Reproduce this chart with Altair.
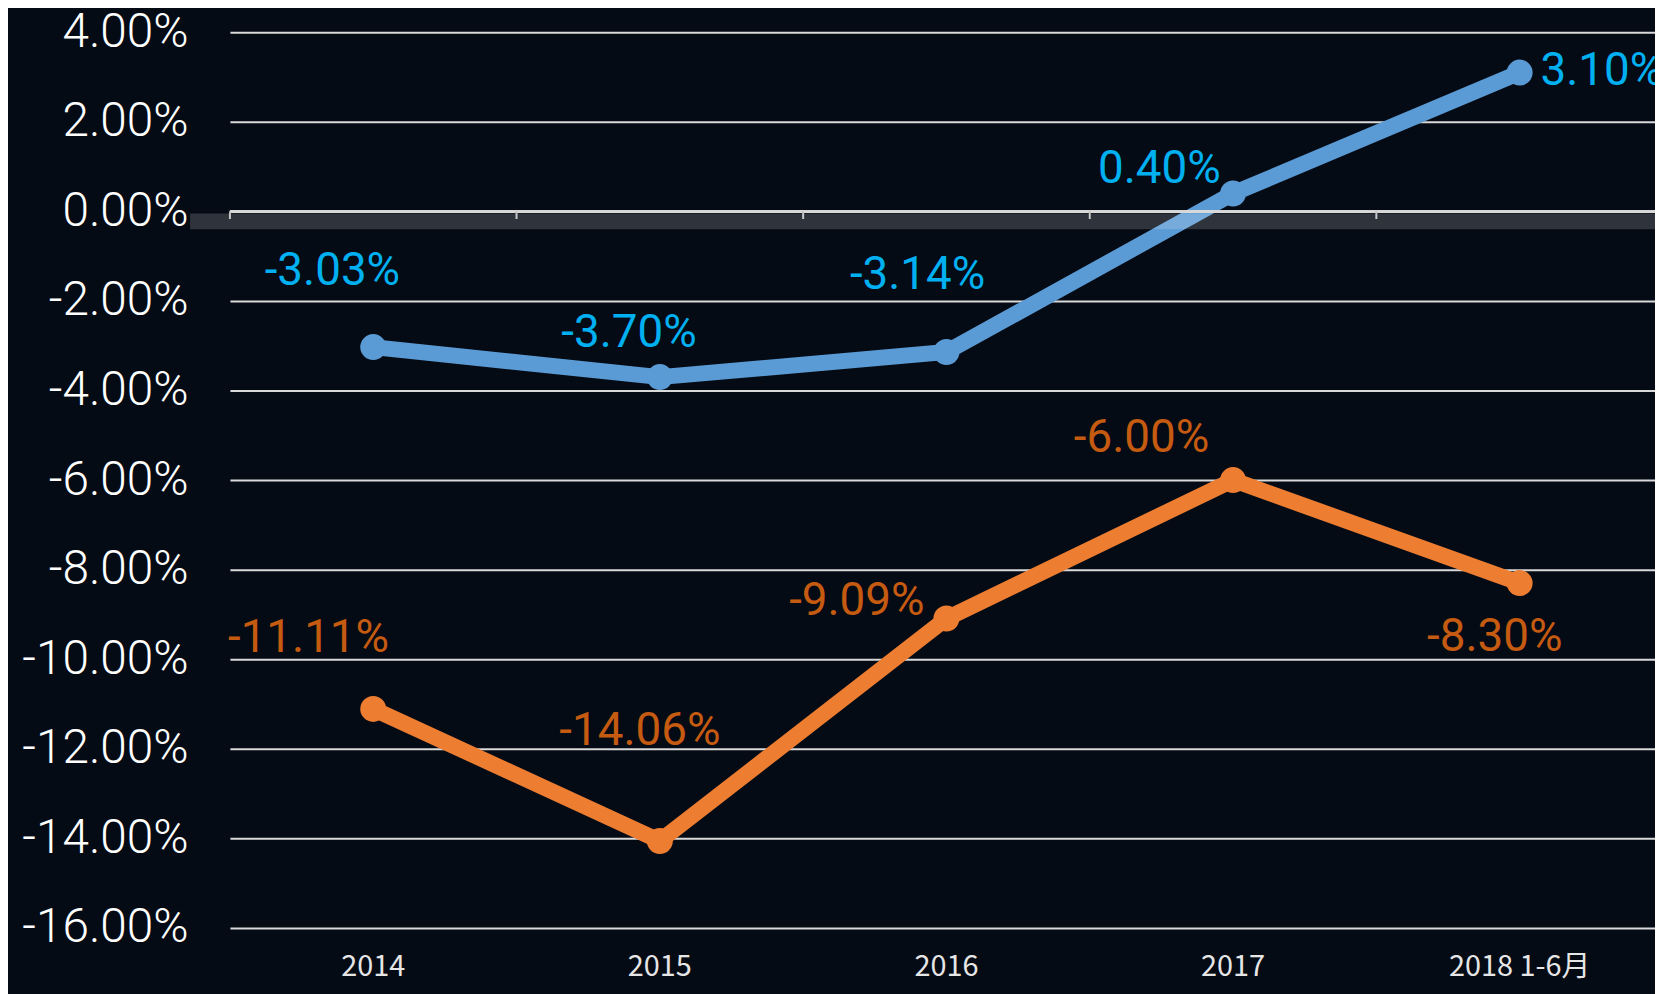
import altair as alt
import pandas as pd

categories = ["2014", "2015", "2016", "2017", "2018 1-6月"]
series_names = ["系列1", "系列2"]
series_a = [-3.03, -3.70, -3.14, 0.40, 3.10]
series_b = [-11.11, -14.06, -9.09, -6.00, -8.30]
y_ticks = [4, 2, 0, -2, -4, -6, -8, -10, -12, -14, -16]

# label offsets (pixels) relative to each point: layout only
offsets_a = [(-41, -76), (-31, -44), (-29, -77), (-74, -25), (21, -2)]
offsets_b = [(-65, -71), (-20, -111), (-90, -17), (-92, -42), (-25, 54)]

BG = "#050B15"
LINE_COLORS = ["#5B9BD5", "#ED7D31"]
TEXT_COLORS = ["#00B0F0", "#C55A11"]

rows = []
for s, vals in zip(series_names, [series_a, series_b]):
    for i, (c, v) in enumerate(zip(categories, vals)):
        rows.append({"cat": c, "idx": i, "series": s, "value": v, "label": f"{v:.2f}%"})
df = pd.DataFrame(rows)
cat_df = pd.DataFrame({"cat": categories})

x_scale = alt.Scale(domain=categories, range=[0, 1440], paddingInner=0, paddingOuter=0)
y_scale = alt.Scale(domain=[-16, 4], nice=False, zero=False)
color_scale = alt.Scale(domain=series_names, range=LINE_COLORS)

y_label_expr = "(datum.value < 0 ? '-' : '') + format(abs(datum.value), '.2f') + '%'"

base = alt.Chart(df)

lines = base.mark_line(strokeWidth=16).encode(
    x=alt.X("cat:N", scale=x_scale, sort=categories, title=None),
    y=alt.Y("value:Q", scale=y_scale, title=None,
            axis=alt.Axis(values=y_ticks, labelExpr=y_label_expr)),
    color=alt.Color("series:N", scale=color_scale, legend=None),
    detail="series:N",
)

points = base.mark_circle(size=680, opacity=1).encode(
    x=alt.X("cat:N", scale=x_scale, sort=categories, title=None),
    y=alt.Y("value:Q", scale=y_scale, title=None),
    color=alt.Color("series:N", scale=color_scale, legend=None),
)

# axis line at zero with ticks at band boundaries
zero_line = alt.Chart(cat_df).mark_rule(color="#D9D9D9", strokeWidth=2).encode(
    x=alt.value(0), x2=alt.value(1440), y=alt.Y(datum=0, scale=y_scale, title=None)
)
zero_ticks = alt.Chart(cat_df).mark_rule(color="#BFBFBF", strokeWidth=2).encode(
    x=alt.X("cat:N", scale=x_scale, sort=categories, title=None, bandPosition=0),
    y=alt.Y(datum=0, scale=y_scale, title=None),
    y2=alt.Y2(datum=-0.17),
)

label_layers = []
for s, offs, tcol in zip(series_names, [offsets_a, offsets_b], TEXT_COLORS):
    for i, (dx, dy) in enumerate(offs):
        align = "left" if (dx > 0) else "center"
        t = base.transform_filter(
            (alt.datum.series == s) & (alt.datum.idx == i)
        ).mark_text(
            font="Roboto", fontSize=46, color=tcol,
            align=align, baseline="middle", dx=dx, dy=dy
        ).encode(
            x=alt.X("cat:N", scale=x_scale, sort=categories, title=None),
            y=alt.Y("value:Q", scale=y_scale, title=None),
            text="label:N",
        )
        label_layers.append(t)

band = alt.Chart(pd.DataFrame({"k": [0]})).mark_rect(color="#FFFFFF", opacity=0.17).encode(
    x=alt.value(-40), x2=alt.value(1440), y=alt.value(182), y2=alt.value(198)
)

chart = alt.layer(lines, zero_line, zero_ticks, points, *label_layers, band).properties(
    width=1432, height=900, background=BG,
    autosize=alt.AutoSizeParams(type="none"),
    padding={"left": 223, "top": 22, "right": 0, "bottom": 64},
).configure_view(
    stroke=None
).configure_axisX(
    labelAngle=0, domain=False, ticks=False, grid=False,
    labelFont="Noto Sans CJK SC", labelFontSize=29,
    labelColor="#E6E6E6", labelPadding=25,
).configure_axisY(
    domain=False, ticks=False, grid=True, gridColor="#D9D9D9", gridWidth=2,
    labelFont="Roboto", labelFontWeight=300, labelFontSize=48,
    labelColor="#FFFFFF", labelPadding=42,
)

chart.save("out.html", embed_options={"renderer": "svg", "actions": False})
